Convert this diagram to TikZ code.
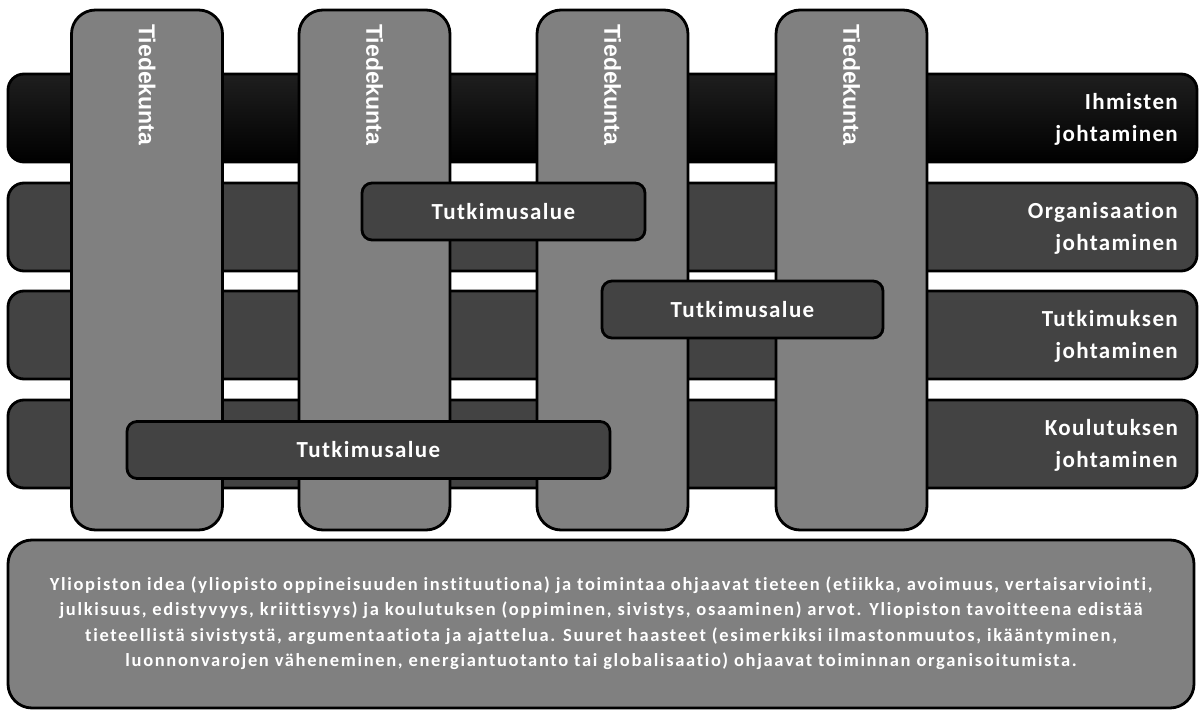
\documentclass[tikz,border=0pt]{standalone}
\usepackage{fontspec}
\setmainfont{Carlito}[Ligatures=NoCommon]
\newfontfamily\tiedefont{Liberation Sans}
\newfontfamily\labelfont{Carlito}[LetterSpace=6, Ligatures=NoCommon]
\newfontfamily\basefont{Carlito}[LetterSpace=9, Ligatures=NoCommon]
\definecolor{colgray}{HTML}{808080}
\definecolor{bardark}{HTML}{434343}
\begin{document}
\begin{tikzpicture}[x=1pt,y=-1pt,
  box/.style={draw=black, line width=2.8pt, inner sep=0pt, outer sep=0pt},
  column/.style={box, fill=colgray, rounded corners=24pt, minimum width=151pt, minimum height=520pt},
  bar/.style={box, fill=bardark, rounded corners=16pt, minimum width=1189pt, minimum height=88pt},
  topbar/.style={box, rounded corners=16pt, minimum width=1189pt, minimum height=88pt, top color=black!88, bottom color=black},
  area/.style={box, fill=bardark, rounded corners=10pt, minimum height=57pt, text=white, font=\labelfont\fontsize{23}{28}\selectfont\bfseries},
  tiede/.style={rotate=-90, anchor=west, text=white, inner sep=0pt, font=\tiedefont\bfseries\fontsize{23}{23}\selectfont},
  barlabel/.style={anchor=east, align=right, text=white, inner sep=0pt, font=\labelfont\fontsize{23}{32}\selectfont\bfseries},
  base/.style={box, fill=colgray, rounded corners=24pt, minimum width=1186pt, minimum height=168pt},
  basetext/.style={align=center, text=white, inner sep=0pt, font=\basefont\fontsize{18.5}{25.5}\selectfont\bfseries}
]
\useasboundingbox (0,0) rectangle (1200,714);
% horizontal bars
\node[topbar] (b1) at (602.5,118) {};
\node[bar] (b2) at (602.5,227) {};
\node[bar] (b3) at (602.5,335) {};
\node[bar] (b4) at (602.5,444) {};
% columns
\node[column] (c1) at (147,270) {};
\node[column] (c2) at (374.5,270) {};
\node[column] (c3) at (612.5,270) {};
\node[column] (c4) at (851.5,270) {};
\node[tiede] (t1) at (147,24) {Tiedekunta};
\node[tiede] (t2) at (374.5,24) {Tiedekunta};
\node[tiede] (t3) at (612.5,24) {Tiedekunta};
\node[tiede] (t4) at (851.5,24) {Tiedekunta};
% research areas
\node[area, minimum width=283pt] (a1) at (503.5,211.5) {Tutkimusalue};
\node[area, minimum width=281pt] (a2) at (742.5,309.5) {Tutkimusalue};
\node[area, minimum width=483pt] (a3) at (368.5,450) {Tutkimusalue};
% bar labels
\node[barlabel] (l1) at (1178,119) {Ihmisten\\johtaminen};
\node[barlabel] (l2) at (1178,228) {Organisaation\\johtaminen};
\node[barlabel] (l3) at (1178,336) {Tutkimuksen\\johtaminen};
\node[barlabel] (l4) at (1178,445) {Koulutuksen\\johtaminen};
% base
\node[base] (base) at (601,624) {};
\node[basetext] (bt) at (601,623) {Yliopiston idea (yliopisto oppineisuuden instituutiona) ja toimintaa ohjaavat tieteen (etiikka, avoimuus, vertaisarviointi,\\
julkisuus, edistyvyys, kriittisyys) ja koulutuksen (oppiminen, sivistys, osaaminen) arvot. Yliopiston tavoitteena edistää\\
tieteellistä sivistystä, argumentaatiota ja ajattelua. Suuret haasteet (esimerkiksi ilmastonmuutos, ikääntyminen,\\
luonnonvarojen väheneminen, energiantuotanto tai globalisaatio) ohjaavat toiminnan organisoitumista.};
\end{tikzpicture}
\end{document}
